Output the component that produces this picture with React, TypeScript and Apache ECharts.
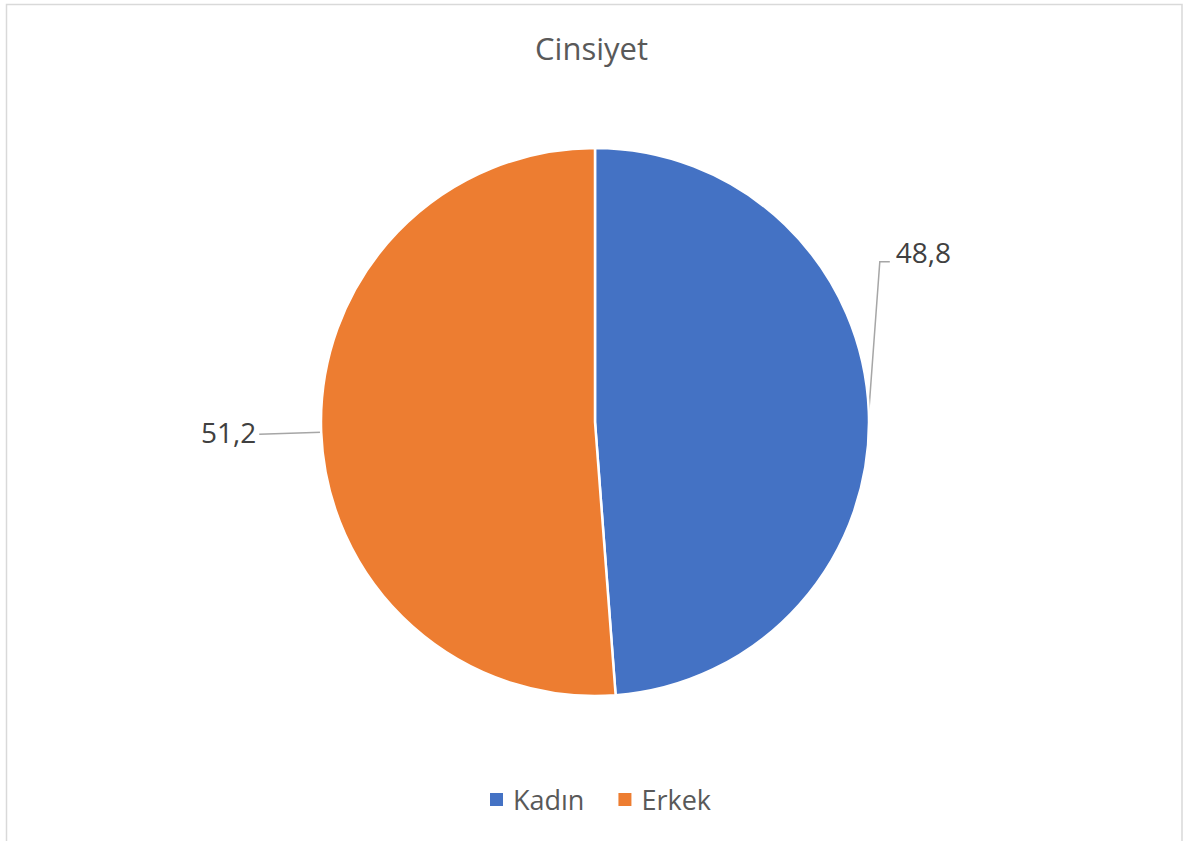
import React, { useEffect, useRef } from "react";
import * as echarts from "echarts";

const titleText = "Cinsiyet";
const categories = ["Kadın", "Erkek"];
const values = [48.8, 51.2];
const colors = ["#4472C4", "#ED7D31"];

export default function App() {
  const ref = useRef<HTMLDivElement>(null);
  useEffect(() => {
    if (!ref.current) return;
    const chart = echarts.init(ref.current, null, { renderer: "svg" });
    const font = "'Open Sans', 'Noto Sans', sans-serif";
    chart.setOption({
      animation: false,
      backgroundColor: "#ffffff",
      title: {
        text: titleText,
        left: "center",
        top: 27,
        textStyle: { fontFamily: font, fontSize: 31, fontWeight: "normal", color: "#595959" },
      },
      legend: {
        data: categories,
        left: 490,
        top: 786,
        padding: 0,
        icon: "rect",
        itemWidth: 13,
        itemHeight: 13,
        itemGap: 34,
        itemStyle: { borderWidth: 0 },
        textStyle: { fontFamily: font, fontSize: 27, color: "#595959", padding: [0, 0, 0, 5] },
      },
      graphic: [
        {
          type: "rect",
          shape: { x: 6.5, y: 4.5, width: 1175.5, height: 860 },
          style: { fill: "none", stroke: "#d9d9d9", lineWidth: 1.5 },
          silent: true,
        },
      ],
      series: [
        {
          type: "pie",
          center: [595, 422],
          radius: [0, 274],
          startAngle: 90,
          clockwise: true,
          avoidLabelOverlap: false,
          itemStyle: { borderColor: "#ffffff", borderWidth: 2.5 },
          label: {
            show: true,
            formatter: (p: any) => String(p.value).replace(".", ","),
            fontFamily: font,
            fontSize: 28,
            color: "#404040",
          },
          labelLine: {
            show: true,
            length: 10,
            length2: 10,
            lineStyle: { color: "#a6a6a6", width: 1.5 },
          },
          labelLayout: (params: any) => {
            const pts = params.labelLinePoints;
            if (!pts) return {};
            const p0 = pts[0];
            if (params.dataIndex === 0) {
              const p1 = [p0[0] + 11, p0[1] - 150];
              const p2 = [p1[0] + 10, p1[1]];
              return {
                x: p2[0] + 6,
                y: p2[1] - 10,
                align: "left",
                verticalAlign: "middle",
                labelLinePoints: [p0, p1, p2],
              };
            }
            const p1 = [p0[0] - 62, p0[1] + 2];
            return {
              x: p1[0] - 3,
              y: p1[1] - 2,
              align: "right",
              verticalAlign: "middle",
              labelLinePoints: [p0, p1, p1],
            };
          },
          data: categories.map((name, i) => ({
            name,
            value: values[i],
            itemStyle: { color: colors[i] },
          })),
        },
      ],
    });
    return () => chart.dispose();
  }, []);
  return (
    <div
      ref={ref}
      style={{ position: "absolute", left: 0, top: 0, width: 1183, height: 841 }}
    />
  );
}
